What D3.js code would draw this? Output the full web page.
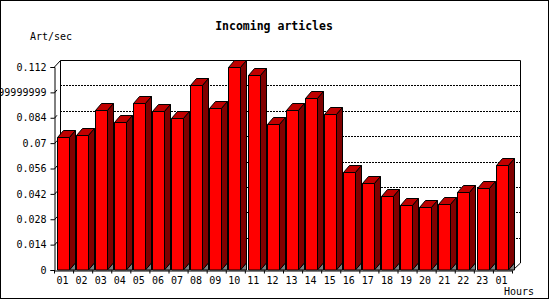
<!DOCTYPE html>
<html>
<head>
<meta charset="utf-8">
<script src="https://cdn.jsdelivr.net/npm/d3@7"></script>
<style>
  body { margin: 0; background: #fff; }
  svg { display: block; }
  text { font-family: "DejaVu Sans Mono", "Liberation Mono", monospace; fill: #000; }
</style>
</head>
<body>
<svg id="chart" width="550" height="300"></svg>
<script>
// data
var hours = ["01", "02", "03", "04", "05", "06", "07", "08", "09", "10", "11", "12",
             "13", "14", "15", "16", "17", "18", "19", "20", "21", "22", "23", "01"];
var rates = [0.0732, 0.0746, 0.0881, 0.0815, 0.0920, 0.0876, 0.0837, 0.1019,
             0.0892, 0.1118, 0.1074, 0.0804, 0.0881, 0.0947, 0.0859, 0.0539,
             0.0478, 0.0407, 0.0357, 0.0346, 0.0362, 0.0429, 0.0451, 0.0578];
var yTicks = [0, 0.014, 0.028, 0.042, 0.056, 0.07, 0.084, 0.098, 0.112];
var yTickLabels = ["0", "0.014", "0.028", "0.042", "0.056", "0.07", "0.084", "0.0979999999999999", "0.112"];

var svg = d3.select("#chart");
// plot box (front face), "top" is reserved on window so use plotTop
var left = 54, right = 512, bottom = 270, plotTop = 67;
var dx = 6, dy = 7;   // 3d depth

var x = d3.scaleBand().domain(d3.range(hours.length)).range([left, right]);
var xEdge = d3.scaleLinear().domain([0, hours.length]).range([left, right]);
var y = d3.scaleLinear().domain([0, 0.112]).range([bottom, plotTop]);

// outer border
svg.append("rect").attr("x", 0.5).attr("y", 0.5).attr("width", 548).attr("height", 298)
    .attr("fill", "#fff").attr("stroke", "#000");

// back wall grid (dotted)
svg.append("g").selectAll("line")
    .data(yTicks.slice(1, -1))
    .enter().append("line")
    .attr("x1", left + dx).attr("x2", right + dx + 2)
    .attr("y1", function(d) { return Math.round(y(d) - dy) + 0.5; })
    .attr("y2", function(d) { return Math.round(y(d) - dy) + 0.5; })
    .attr("stroke", "#000").attr("stroke-dasharray", "2,1");

// back wall frame
var frame = svg.append("g").attr("stroke", "#000").attr("fill", "none");
frame.append("path")
    .attr("d", "M" + (left + dx + 0.5) + "," + (bottom - dy) +
               "V" + (plotTop - dy + 0.5) +
               "H" + (right + dx + 2.5) +
               "V" + (bottom - dy));
frame.append("line")
    .attr("x1", left + 0.5).attr("y1", plotTop)
    .attr("x2", left + dx + 0.5).attr("y2", plotTop - dy + 0.5);
frame.append("line")
    .attr("x1", right + 1).attr("y1", bottom)
    .attr("x2", right + dx + 2.5).attr("y2", bottom - dy);

// bars
var w = 12, off = 2.7;
var bar = svg.append("g").selectAll("g")
    .data(rates)
    .enter().append("g")
    .attr("stroke", "#000").attr("stroke-linejoin", "round");

function fx(i) { return Math.round(x(i) + off) + 0.5; }

bar.append("rect")
    .attr("x", function(d, i) { return fx(i); })
    .attr("y", function(d) { return Math.round(y(d)) + 0.5; })
    .attr("width", w)
    .attr("height", function(d) { return bottom - Math.round(y(d)) - 0.5; })
    .attr("fill", "#ff0000");

bar.append("polygon")
    .attr("points", function(d, i) {
        var x0 = fx(i), yt = Math.round(y(d)) + 0.5;
        return [[x0, yt], [x0 + dx, yt - dy], [x0 + w + dx, yt - dy], [x0 + w, yt]].join(" ");
    })
    .attr("fill", "#c00000");

bar.append("polygon")
    .attr("points", function(d, i) {
        var x1 = fx(i) + w, yt = Math.round(y(d)) + 0.5;
        return [[x1, yt], [x1 + dx, yt - dy], [x1 + dx, bottom - dy], [x1, bottom]].join(" ");
    })
    .attr("fill", "#800000");

bar.append("polygon")
    .attr("points", function(d, i) {
        var x1 = fx(i) + w;
        return [[x1, bottom], [x1 + dx, bottom - dy], [x1 + dx, bottom]].join(" ");
    })
    .attr("fill", "#808080");

// y axis
var yAxis = svg.append("g")
    .attr("transform", "translate(" + (left + 0.5) + ",0)")
    .call(d3.axisLeft(y).tickValues(yTicks).tickSizeOuter(0).tickSize(4).tickPadding(4)
        .tickFormat(function(d, i) { return yTickLabels[i]; }));
yAxis.select(".domain").attr("stroke", "#000");
yAxis.selectAll("line").attr("stroke", "#000");
yAxis.selectAll("text").attr("font-size", 10).attr("fill", "#000").attr("font-family", null);
yAxis.selectAll(".tick").filter(function(d) { return d > 0 && d < 0.112; }).append("line")
    .attr("x1", 0).attr("y1", 0).attr("x2", 2.5).attr("y2", -3)
    .attr("stroke", "#000");

// x axis: ticks at slot edges, labels at slot centres
var xAxis = svg.append("g")
    .attr("transform", "translate(0," + (bottom + 0.5) + ")")
    .call(d3.axisBottom(xEdge).tickValues(d3.range(hours.length + 1)).tickSize(3).tickSizeOuter(0)
        .tickFormat(""));
xAxis.select(".domain").attr("stroke", "#000");
xAxis.selectAll("line").attr("stroke", "#000");

svg.append("g").selectAll("text")
    .data(hours)
    .enter().append("text")
    .attr("x", function(d, i) { return x(i) + x.bandwidth() / 2 - 1; })
    .attr("y", 284)
    .attr("text-anchor", "middle")
    .attr("font-size", 10)
    .text(function(d) { return d; });

// titles
svg.append("text").attr("x", 274).attr("y", 30).attr("text-anchor", "middle")
    .attr("font-size", 11.5).attr("font-weight", "bold").text("Incoming articles");
svg.append("text").attr("x", 30).attr("y", 40).attr("font-size", 10).text("Art/sec");
svg.append("text").attr("x", 534).attr("y", 295).attr("text-anchor", "end")
    .attr("font-size", 10).text("Hours");
</script>
</body>
</html>
